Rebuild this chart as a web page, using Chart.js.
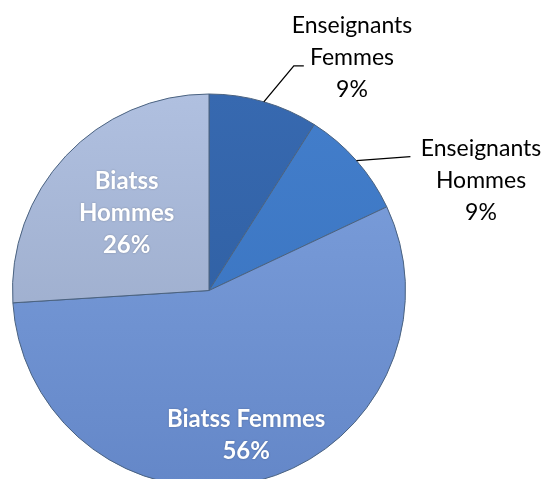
<!DOCTYPE html>
<html>
<head>
<meta charset="utf-8">
<script src="https://cdn.jsdelivr.net/npm/chart.js@4/dist/chart.umd.min.js"></script>
<style>
  html, body { margin: 0; padding: 0; background: #fff; overflow: hidden; }
  #wrap { position: relative; width: 547px; height: 490px; }
</style>
</head>
<body>
<div id="wrap"><canvas id="personnel_chart"></canvas></div>
<script>
// personnel breakdown (percent)
var categories = ["Enseignants Femmes", "Enseignants Hommes", "Biatss Femmes", "Biatss Hommes"];
var labelLines = [["Enseignants", "Femmes"], ["Enseignants", "Hommes"], ["Biatss Femmes"], ["Biatss", "Hommes"]];
var shares = [9, 9, 56, 26];

// [rim/top colour, inner colour] for each slice
var sliceColors = [
    ["#3769b0", "#2c5b9c"],
    ["#437ecb", "#3771bd"],
    ["#7fa2de", "#6487c8"],
    ["#b0c0e0", "#93a3c2"]
];

function sliceFill(ctx) {
    var chart = ctx.chart;
    var area = chart.chartArea;
    if (!area) return sliceColors[ctx.dataIndex][1];
    var c = sliceColors[ctx.dataIndex];
    var g = chart.ctx.createLinearGradient(0, area.top, 0, area.bottom);
    g.addColorStop(0, c[0]);
    g.addColorStop(1, c[1]);
    return g;
}

// labels: white bold inside for Biatss, black outside with leader lines for Enseignants
var pieLabels = {
    id: "pieLabels",
    afterDatasetsDraw: function (chart) {
        var ctx = chart.ctx;
        var arcs = chart.getDatasetMeta(0).data;
        ctx.save();
        ctx.textAlign = "center";
        ctx.textBaseline = "middle";
        arcs.forEach(function (arc, i) {
            var lines = labelLines[i].concat([shares[i] + "%"]);
            var mid = (arc.startAngle + arc.endAngle) / 2;
            var lh = 32;
            if (i >= 2) {
                var r = i == 2 ? arc.outerRadius * 0.76 : arc.outerRadius * 0.575;
                var cx = arc.x + Math.cos(mid) * r;
                var cy = arc.y + Math.sin(mid) * r;
                ctx.fillStyle = "#ffffff";
                ctx.font = "bold 24px Lato";
                ctx.shadowColor = "rgba(0,0,0,0.25)";
                ctx.shadowBlur = 2;
                lines.forEach(function (t, k) {
                    ctx.fillText(t, cx, cy + (k - (lines.length - 1) / 2) * lh);
                });
                ctx.shadowBlur = 0;
                ctx.shadowColor = "transparent";
            } else {
                var ex = arc.x + Math.cos(mid) * arc.outerRadius;
                var ey = arc.y + Math.sin(mid) * arc.outerRadius;
                ctx.strokeStyle = "#000";
                ctx.lineWidth = 1.3;
                ctx.beginPath();
                var tx, ty;
                if (i == 0) {
                    ctx.moveTo(ex, ey);
                    ctx.lineTo(ex + 30, ey - 36);
                    ctx.lineTo(ex + 40, ey - 36);
                    tx = 352; ty = 58;
                } else {
                    ctx.moveTo(ex, ey);
                    ctx.lineTo(ex + 54, ey - 4);
                    tx = 481; ty = 181;
                }
                ctx.stroke();
                ctx.fillStyle = "#000";
                ctx.font = "23px Lato";
                lines.forEach(function (t, k) {
                    ctx.fillText(t, tx, ty + (k - 1) * lh);
                });
            }
        });
        ctx.restore();
    }
};

var ctx = document.getElementById("personnel_chart");
new Chart(ctx, {
    type: "pie",
    data: {
        labels: categories,
        datasets: [{
            data: shares,
            backgroundColor: sliceFill,
            borderColor: "#4a6280",
            borderWidth: 1,
            offset: 0
        }]
    },
    options: {
        responsive: true,
        maintainAspectRatio: false,
        animation: false,
        layout: { padding: { left: 12, right: 141, top: 93, bottom: 2 } },
        plugins: {
            legend: { display: false },
            tooltip: { enabled: false }
        }
    },
    plugins: [pieLabels]
});
</script>
</body>
</html>
